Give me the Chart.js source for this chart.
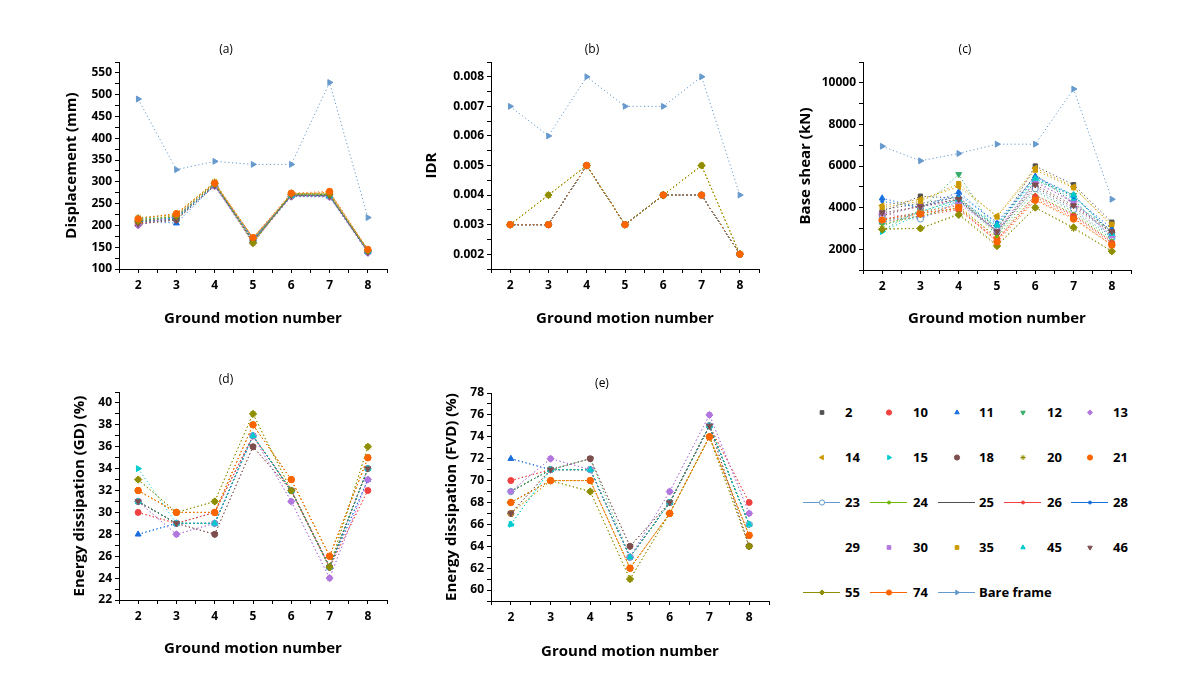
<!DOCTYPE html>
<html>
<head>
<meta charset="utf-8">
<script src="https://cdn.jsdelivr.net/npm/chart.js@4.4.1/dist/chart.umd.min.js"></script>
<style>
  body { margin: 0; background: #fff; width: 1187px; height: 695px; position: relative; overflow: hidden; font-family: "Open Sans", sans-serif; }
  canvas.panel { position: absolute; }
  .leg { position: absolute; height: 20px; width: 140px; }
  .leg canvas { position: absolute; left: 0; top: 0; }
  .leg span { position: absolute; top: 0; line-height: 20px; font-weight: bold; font-size: 13px; color: #000; white-space: nowrap; }
</style>
</head>
<body>
<canvas class="panel" id="chartA" width="332" height="300" style="left:60px;top:30px"></canvas>
<canvas class="panel" id="chartB" width="344" height="300" style="left:420px;top:30px"></canvas>
<canvas class="panel" id="chartC" width="342" height="300" style="left:794px;top:30px"></canvas>
<canvas class="panel" id="chartD" width="332" height="300" style="left:60px;top:360px"></canvas>
<canvas class="panel" id="chartE" width="344" height="302" style="left:430px;top:361px"></canvas>
<div id="legend"></div>

<script>
// ground motion numbers on the x axis
const motions = [2, 3, 4, 5, 6, 7, 8];

// series names (legend order)
const seriesNames = ['2', '10', '11', '12', '13', '14', '15', '18', '20', '21', '23', '24', '25',
                     '26', '28', '29', '30', '35', '45', '46', '55', '74', 'Bare frame'];

// (a) displacement, mm  - one row per series
const displacement = [
  [205, 215, 292, 165, 268, 268, 140],
  [210, 218, 295, 168, 270, 270, 142],
  [212, 205, 293, 170, 268, 266, 139],
  [215, 220, 296, 162, 272, 272, 141],
  [200, 222, 290, 160, 266, 265, 137],
  [208, 225, 298, 172, 270, 275, 143],
  [212, 217, 294, 166, 269, 268, 140],
  [203, 213, 291, 164, 267, 267, 139],
  [218, 225, 300, 158, 274, 270, 144],
  [206, 219, 297, 170, 271, 276, 142],
  [210, 216, 292, 167, 268, 269, 140],
  [207, 221, 295, 163, 270, 271, 141],
  [209, 214, 293, 165, 268, 268, 140],
  [211, 218, 294, 166, 269, 269, 141],
  [208, 217, 292, 168, 270, 268, 140],
  [213, 219, 296, 164, 271, 270, 142],
  [202, 220, 291, 161, 267, 266, 138],
  [214, 228, 299, 170, 273, 274, 143],
  [216, 216, 293, 166, 268, 267, 140],
  [204, 212, 292, 163, 269, 268, 139],
  [210, 222, 296, 160, 272, 272, 142],
  [215, 227, 297, 172, 274, 278, 145],
  [490, 328, 347, 340, 340, 528, 218]
];

// (b) inter-storey drift ratio
const idr = [
  [0.003, 0.003, 0.005, 0.003, 0.004, 0.004, 0.002],
  [0.003, 0.003, 0.005, 0.003, 0.004, 0.004, 0.002],
  [0.003, 0.003, 0.005, 0.003, 0.004, 0.004, 0.002],
  [0.003, 0.003, 0.005, 0.003, 0.004, 0.004, 0.002],
  [0.003, 0.003, 0.005, 0.003, 0.004, 0.004, 0.002],
  [0.003, 0.004, 0.005, 0.003, 0.004, 0.005, 0.002],
  [0.003, 0.003, 0.005, 0.003, 0.004, 0.004, 0.002],
  [0.003, 0.003, 0.005, 0.003, 0.004, 0.004, 0.002],
  [0.003, 0.004, 0.005, 0.003, 0.004, 0.005, 0.002],
  [0.003, 0.003, 0.005, 0.003, 0.004, 0.004, 0.002],
  [0.003, 0.003, 0.005, 0.003, 0.004, 0.004, 0.002],
  [0.003, 0.003, 0.005, 0.003, 0.004, 0.004, 0.002],
  [0.003, 0.003, 0.005, 0.003, 0.004, 0.004, 0.002],
  [0.003, 0.003, 0.005, 0.003, 0.004, 0.004, 0.002],
  [0.003, 0.003, 0.005, 0.003, 0.004, 0.004, 0.002],
  [0.003, 0.003, 0.005, 0.003, 0.004, 0.004, 0.002],
  [0.003, 0.003, 0.005, 0.003, 0.004, 0.004, 0.002],
  [0.003, 0.004, 0.005, 0.003, 0.004, 0.005, 0.002],
  [0.003, 0.003, 0.005, 0.003, 0.004, 0.004, 0.002],
  [0.003, 0.003, 0.005, 0.003, 0.004, 0.004, 0.002],
  [0.003, 0.004, 0.005, 0.003, 0.004, 0.005, 0.002],
  [0.003, 0.003, 0.005, 0.003, 0.004, 0.004, 0.002],
  [0.007, 0.006, 0.008, 0.007, 0.007, 0.008, 0.004]
];

// (c) base shear, kN
const baseShear = [
  [3800, 4550, 4450, 2900, 6000, 5100, 3300],
  [3300, 3600, 3900, 2400, 4500, 3600, 2300],
  [4450, 4000, 4750, 3200, 5500, 4600, 2800],
  [2900, 3900, 5600, 2700, 5300, 4600, 2700],
  [3700, 3500, 4200, 2900, 5200, 4300, 2600],
  [4100, 4400, 5000, 3600, 5900, 5000, 3100],
  [2850, 3700, 4300, 3100, 5400, 4400, 2500],
  [3600, 4100, 4400, 2800, 5000, 4000, 2800],
  [3000, 3000, 3700, 2200, 4000, 3000, 1900],
  [3400, 3800, 4100, 2500, 4400, 3500, 2200],
  [3500, 3450, 4300, 2900, 4900, 3900, 2600],
  [3200, 3600, 4000, 2600, 4600, 3700, 2400],
  [3900, 4200, 4500, 3000, 5600, 4200, 2900],
  [3450, 3750, 3950, 2450, 4600, 3650, 2350],
  [4300, 4000, 4600, 3300, 5500, 4500, 3000],
  [3100, 3800, 4400, 2700, 4800, 3800, 2500],
  [3700, 4050, 4300, 2850, 5300, 4200, 2650],
  [4000, 4300, 5150, 3550, 5800, 4950, 3200],
  [3300, 3800, 4400, 3150, 5400, 4600, 2750],
  [3750, 4050, 4400, 2850, 5100, 4100, 2850],
  [2950, 3000, 3650, 2150, 4000, 3050, 1900],
  [3400, 3700, 4000, 2350, 4350, 3450, 2200],
  [6950, 6250, 6600, 7050, 7050, 9700, 4400]
];

// (d) energy dissipation in the dampers (GD), %
const dissipationGD = [
  [31, 29, 30, 37, 32, 25, 34],
  [30, 29, 30, 37, 32, 25, 32],
  [28, 29, 29, 37, 32, 25, 33],
  [31, 29, 29, 37, 32, 25, 34],
  [31, 28, 29, 37, 31, 24, 33],
  [32, 30, 30, 38, 33, 26, 35],
  [34, 29, 29, 37, 32, 25, 34],
  [31, 29, 28, 36, 32, 25, 34],
  [33, 30, 31, 39, 32, 25, 36],
  [32, 30, 30, 38, 33, 26, 35],
  [31, 29, 29, 37, 32, 25, 34],
  [31, 29, 29, 37, 32, 25, 34],
  [31, 29, 29, 37, 32, 25, 34],
  [30, 29, 30, 37, 32, 25, 32],
  [28, 29, 29, 37, 32, 25, 33],
  [31, 29, 29, 37, 32, 25, 34],
  [31, 28, 29, 37, 31, 24, 33],
  [32, 30, 30, 38, 33, 26, 35],
  [31, 29, 29, 37, 32, 25, 34],
  [31, 29, 28, 36, 32, 25, 34],
  [33, 30, 31, 39, 32, 25, 36],
  [32, 30, 30, 38, 33, 26, 35],
  [null, null, null, null, null, null, null]
];

// (e) energy dissipation in the dampers (FVD), %
const dissipationFVD = [
  [69, 71, 71, 63, 68, 75, 66],
  [70, 71, 71, 63, 68, 75, 68],
  [72, 71, 71, 63, 68, 75, 66],
  [69, 71, 72, 63, 68, 75, 66],
  [69, 72, 71, 63, 69, 76, 67],
  [67, 70, 70, 62, 67, 74, 65],
  [66, 71, 71, 63, 68, 75, 66],
  [67, 71, 72, 64, 68, 75, 64],
  [68, 70, 69, 61, 67, 74, 64],
  [68, 70, 70, 62, 67, 74, 65],
  [69, 71, 71, 63, 68, 75, 66],
  [69, 71, 71, 63, 68, 75, 66],
  [69, 71, 71, 63, 68, 75, 66],
  [70, 71, 71, 63, 68, 75, 68],
  [72, 71, 71, 63, 68, 75, 66],
  [69, 71, 71, 63, 68, 75, 66],
  [69, 72, 71, 63, 69, 76, 67],
  [67, 70, 70, 62, 67, 74, 65],
  [66, 71, 71, 63, 68, 75, 66],
  [67, 71, 72, 64, 68, 75, 64],
  [68, 70, 69, 61, 67, 74, 64],
  [68, 70, 70, 62, 67, 74, 65],
  [null, null, null, null, null, null, null]
];

// labelled (major) ticks
const dispTicks = [100, 150, 200, 250, 300, 350, 400, 450, 500, 550];
const idrTicks = [0.002, 0.003, 0.004, 0.005, 0.006, 0.007, 0.008];
const shearTicks = [2000, 4000, 6000, 8000, 10000];
const gdTicks = [22, 24, 26, 28, 30, 32, 34, 36, 38, 40];
const fvdTicks = [60, 62, 64, 66, 68, 70, 72, 74, 76, 78];

// Origin-style colours and symbols
const seriesColors = ['#515151', '#F14040', '#1A6FDF', '#37AD6B', '#B177DE', '#CC9900', '#00CBCC', '#7D4E4E',
                      '#8E8E00', '#FB6501', '#6699CC', '#6FB802', '#515151', '#F14040', '#1A6FDF', '#37AD6B',
                      '#B177DE', '#CC9900', '#00CBCC', '#7D4E4E', '#8E8E00', '#FB6501', '#6699CC'];
const seriesMarkers = ['rect', 'circle', 'triangle', 'triangle', 'rectRot', 'triangle', 'triangle', 'circle',
                       'star', 'circle', 'circle', 'circle', false, 'circle', 'circle', false,
                       'rect', 'rect', 'triangle', 'triangle', 'rectRot', 'circle', 'triangle'];
const markerRotation = [0, 0, 0, 180, 0, 270, 90, 0, 0, 0, 0, 0, 0, 0, 0, 0, 0, 0, 0, 180, 0, 0, 90];
const markerRadius = [3, 3, 3.4, 3.4, 3.6, 3.4, 3.4, 3, 3.4, 3, 3, 1.5, 0, 1.5, 1.5, 0, 3, 3, 3.4, 3.4, 3.6, 3.2, 3.4];
const hollowMarker = [10];
const legendLine = [10, 11, 12, 13, 14, 20, 21, 22];

const boldFont = { family: 'Open Sans', size: 12, weight: 'bold' };
const titleFont = { family: 'Open Sans', size: 15, weight: 'bold' };

function makeDatasets(rows) {
  return rows.map((row, i) => ({
    label: seriesNames[i],
    data: motions.map((m, j) => ({ x: m, y: row[j] })),
    borderColor: seriesColors[i],
    backgroundColor: hollowMarker.includes(i) ? '#ffffff' : seriesColors[i],
    pointBorderColor: seriesColors[i],
    pointStyle: seriesMarkers[i] || 'circle',
    pointRadius: seriesMarkers[i] ? markerRadius[i] : 0,
    pointRotation: markerRotation[i],
    pointBorderWidth: 1,
    borderWidth: 1,
    borderDash: [1.2, 2.6],
    order: rows.length - i
  }));
}

function makePanel(id, rows, cfg) {
  const isMajor = v => cfg.ticks.some(t => Math.abs(t - v) < cfg.step * 0.01);
  new Chart(document.getElementById(id), {
    type: 'line',
    data: { datasets: makeDatasets(rows) },
    options: {
      responsive: false,
      animation: false,
      layout: { padding: 0 },
      plugins: {
        legend: { display: false },
        tooltip: { enabled: false },
        title: {
          display: true, text: cfg.title, color: '#000',
          font: { family: 'Open Sans', size: 12, weight: 'normal' },
          padding: { top: cfg.titleTop, bottom: cfg.titleBottom }
        }
      },
      scales: {
        x: {
          type: 'linear', min: 1.5, max: 8.5,
          afterFit: s => { s.height = cfg.xH; },
          border: { display: true, color: '#000', width: 1 },
          grid: { drawOnChartArea: false, tickLength: 4, tickColor: '#000', color: '#000' },
          ticks: {
            stepSize: 0.5, autoSkip: false, maxRotation: 0, padding: 5, color: '#000', font: boldFont,
            callback: v => motions.includes(v) ? String(v) : ''
          },
          title: { display: true, text: 'Ground motion number', color: '#000', font: titleFont, padding: { top: 0, bottom: 2 } }
        },
        y: {
          type: 'linear', min: cfg.min, max: cfg.max,
          afterFit: s => { s.width = cfg.yW; },
          border: { display: true, color: '#000', width: 1 },
          grid: { drawOnChartArea: false, tickLength: 4, tickColor: '#000', color: '#000' },
          ticks: {
            stepSize: cfg.step, autoSkip: false, padding: 3, color: '#000', font: boldFont,
            callback: v => isMajor(v) ? cfg.fmt(v) : ''
          },
          title: { display: true, text: cfg.yTitle, color: '#000', font: titleFont, padding: { top: cfg.yPad, bottom: 0 } }
        }
      }
    }
  });
}

makePanel('chartA', displacement, {
  title: '(a)', yTitle: 'Displacement (mm)', min: 100, max: 575, step: 25, ticks: dispTicks,
  fmt: v => String(Math.round(v)), yW: 59, yPad: 3, xH: 61, titleTop: 12.8, titleBottom: 4.8
});
makePanel('chartB', idr, {
  title: '(b)', yTitle: 'IDR', min: 0.0015, max: 0.0085, step: 0.0005, ticks: idrTicks,
  fmt: v => v.toFixed(3), yW: 71, yPad: 3, xH: 61, titleTop: 12.8, titleBottom: 4.8
});
makePanel('chartC', baseShear, {
  title: '(c)', yTitle: 'Base shear (kN)', min: 1000, max: 11000, step: 1000, ticks: shearTicks,
  fmt: v => String(Math.round(v)), yW: 69, yPad: 3, xH: 60, titleTop: 12.8, titleBottom: 4.8
});
makePanel('chartD', dissipationGD, {
  title: '(d)', yTitle: 'Energy dissipation (GD) (%)', min: 22, max: 41, step: 1, ticks: gdTicks,
  fmt: v => String(Math.round(v)), yW: 59, yPad: 11, xH: 60, titleTop: 12.8, titleBottom: 4.8
});
makePanel('chartE', dissipationFVD, {
  title: '(e)', yTitle: 'Energy dissipation (FVD) (%)', min: 59, max: 78, step: 1, ticks: fvdTicks,
  fmt: v => String(Math.round(v)), yW: 61, yPad: 13, xH: 62, titleTop: 15.8, titleBottom: 1.8
});

// legend grid, 5 columns
const legRows = [412, 457, 502, 547, 592];
const legMarkX = [822, 889, 957, 1023, 1090];
const legTextX = [845, 913, 979, 1047, 1113];
const legendBox = document.getElementById('legend');

seriesNames.forEach((name, i) => {
  const r = Math.floor(i / 5), c = i % 5;
  const item = document.createElement('div');
  item.className = 'leg';
  item.style.left = (legMarkX[c] - 20) + 'px';
  item.style.top = (legRows[r] - 10) + 'px';
  const cv = document.createElement('canvas');
  cv.width = 40; cv.height = 20;
  item.appendChild(cv);
  const span = document.createElement('span');
  span.textContent = name;
  span.style.left = (legTextX[c] - legMarkX[c] + 20) + 'px';
  item.appendChild(span);
  legendBox.appendChild(item);

  const ctx = cv.getContext('2d');
  if (legendLine.includes(i)) {
    ctx.strokeStyle = seriesColors[i];
    ctx.lineWidth = 1;
    ctx.beginPath(); ctx.moveTo(1, 10.5); ctx.lineTo(38, 10.5); ctx.stroke();
  }
  if (seriesMarkers[i]) {
    ctx.fillStyle = hollowMarker.includes(i) ? '#fff' : seriesColors[i];
    ctx.strokeStyle = seriesColors[i];
    ctx.lineWidth = 1;
    const opts = { pointStyle: seriesMarkers[i], rotation: markerRotation[i], radius: Math.min(markerRadius[i], 2.6), borderWidth: 1 };
    if (Chart.helpers && Chart.helpers.drawPoint) {
      Chart.helpers.drawPoint(ctx, opts, 20, 10.5);
    } else {
      ctx.beginPath(); ctx.arc(20, 10.5, opts.radius, 0, Math.PI * 2); ctx.fill(); ctx.stroke();
    }
  }
});
</script>
</body>
</html>
